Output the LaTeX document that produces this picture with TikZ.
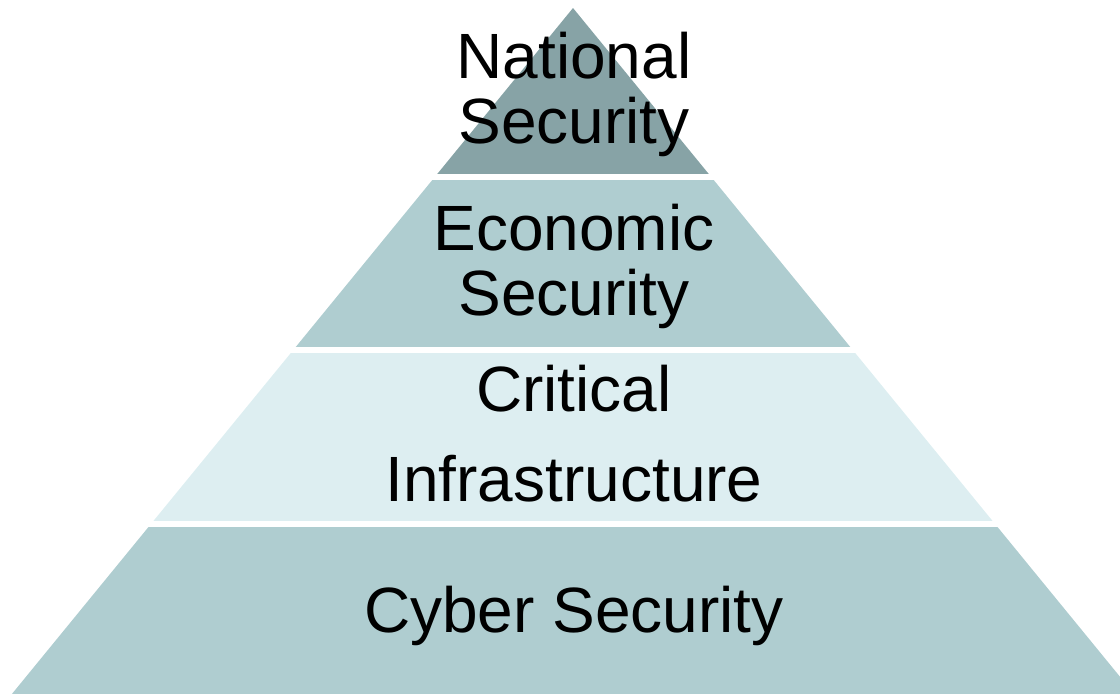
\documentclass[tikz,border=0pt]{standalone}
\usepackage{fontspec}
\setmainfont{Liberation Sans}
\usetikzlibrary{positioning}
\definecolor{toptone}{HTML}{87A3A6}
\definecolor{midtone}{HTML}{AFCDD0}
\definecolor{lighttone}{HTML}{DDEEF1}
\tikzstyle{levelname} = [inner sep=0pt, align=center, text=black, font=\fontsize{64}{65}\selectfont]

\begin{document}
\begin{tikzpicture}[x=1pt, y=-1pt]
\useasboundingbox (0,0) rectangle (1120,694);
\coordinate (apex) at (573,8);
\coordinate (baseL) at (11.9,694);
\coordinate (baseR) at (1134.1,694);
% pyramid, cut into four bands
\begin{scope}
\clip (apex) -- (baseL) -- (baseR) -- cycle;
\fill [toptone] (0,0) rectangle (1120,174);
\fill [midtone] (0,180) rectangle (1120,347);
\fill [lighttone] (0,353) rectangle (1120,521);
\fill [midtone] (0,527) rectangle (1120,694);
\end{scope}
\node (national) [levelname] at (574,94) {National\\Security};
\node (economic) [levelname] at (574,266) {Economic\\Security};
\node (critical) [levelname] at (574,434) {Critical\\[25pt]Infrastructure};
\node (cyber) [levelname, anchor=base] at (574,632) {Cyber Security};
\end{tikzpicture}
\end{document}
